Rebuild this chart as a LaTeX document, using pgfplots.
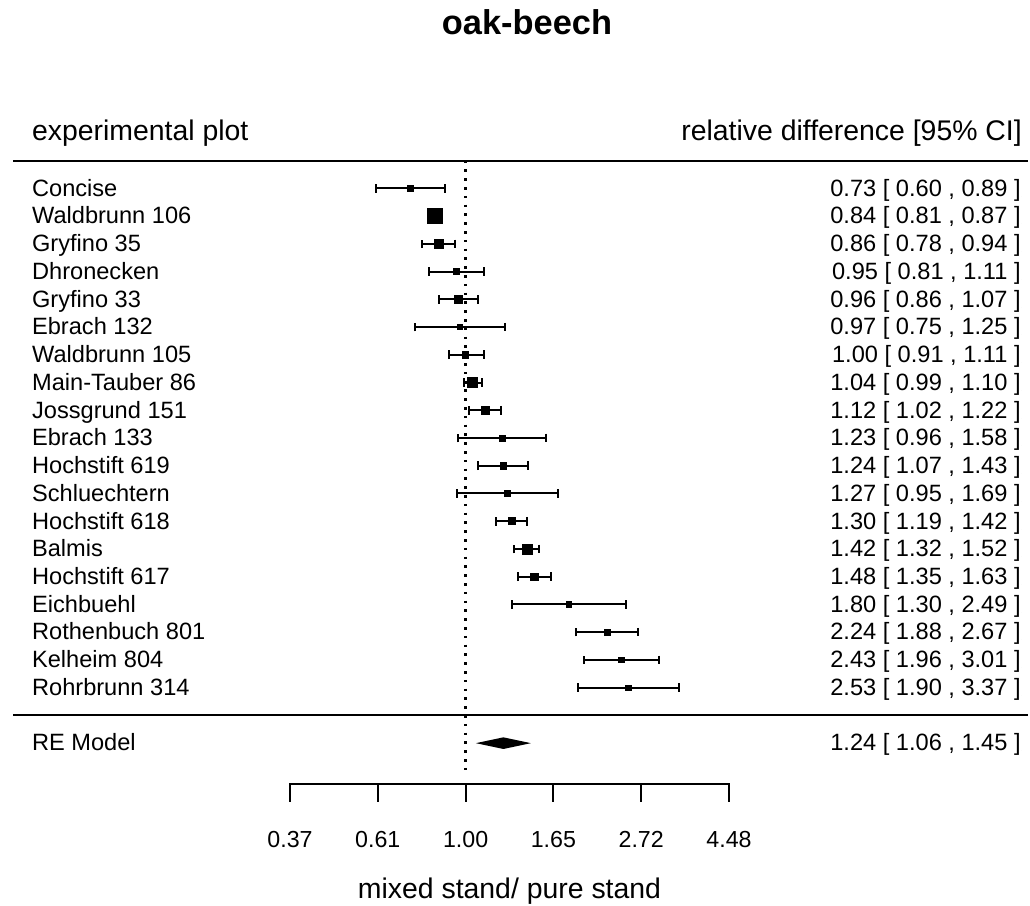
\documentclass[border=0pt]{standalone}
\usepackage{pgfplots}
\usepackage{pgfplotstable}
\pgfplotsset{compat=1.18}
\usepackage{fontspec}
\setmainfont{Liberation Sans}

\newcommand\rowfont{\fontsize{11.8}{14}\selectfont}
\newcommand\tickfont{\fontsize{11.6}{14}\selectfont}
\newcommand\headfont{\fontsize{14.2}{17}\selectfont}
\newcommand\titlefont{\fontsize{17.2}{20}\selectfont\bfseries}

\pgfplotsset{
  /pgf/number format/.cd, fixed, fixed zerofill, precision=2, assume math mode=true,
}
\newcommand\ci[3]{\pgfmathprintnumber{#1} [ \pgfmathprintnumber{#2} , \pgfmathprintnumber{#3} ]}

% one row per plot: position, name, ratio, 95% CI, half side of the weight box (pt)
\pgfplotstableread[col sep=comma]{
y,name,est,lo,hi,box
19,Concise,0.73,0.60,0.89,1.375
18,Waldbrunn 106,0.84,0.81,0.87,3.875
17,Gryfino 35,0.86,0.78,0.94,2.125
16,Dhronecken,0.95,0.81,1.11,1.375
15,Gryfino 33,0.96,0.86,1.07,2.0
14,Ebrach 132,0.97,0.75,1.25,1.25
13,Waldbrunn 105,1.00,0.91,1.11,1.625
12,Main-Tauber 86,1.04,0.99,1.10,2.625
11,Jossgrund 151,1.12,1.02,1.22,1.875
10,Ebrach 133,1.23,0.96,1.58,1.5
9,Hochstift 619,1.24,1.07,1.43,1.625
8,Schluechtern,1.27,0.95,1.69,1.375
7,Hochstift 618,1.30,1.19,1.42,1.75
6,Balmis,1.42,1.32,1.52,2.5
5,Hochstift 617,1.48,1.35,1.63,1.875
4,Eichbuehl,1.80,1.30,2.49,1.375
3,Rothenbuch 801,2.24,1.88,2.67,1.625
2,Kelheim 804,2.43,1.96,3.01,1.375
1,Rohrbrunn 314,2.53,1.90,3.37,1.375
}\studies

% pooled random-effects estimate
\pgfplotstableread[col sep=comma]{
y,name,est,lo,hi
-1,RE Model,1.24,1.06,1.45
}\remodel

\begin{document}
\begin{tikzpicture}
\begin{axis}[
  scale only axis, width=515pt, height=453pt,
  xmode=log, xmin=0.07054, xmax=24.88,
  ymin=-6.87, ymax=25.79,
  hide axis, clip=false,
]
\path (rel axis cs:0,0) rectangle (rel axis cs:1,1);

% title and column headers
\node[font=\titlefont, anchor=base, inner sep=0pt] at (axis cs:1.4186,24.53) {oak-beech};
\node[font=\headfont, anchor=base west, inner sep=0pt] at (axis cs:0.0845,20.74) {experimental plot};
\node[font=\headfont, anchor=base east, inner sep=0pt] at (axis cs:23.8,20.74) {relative difference [95\% CI]};

% separating rules
\draw[line width=1pt] (axis cs:0.0761,20) -- (axis cs:24.6,20);
\draw[line width=1pt] (axis cs:0.0761,0) -- (axis cs:24.6,0);

% line of no difference
\addplot[black, line width=1.3pt, dash pattern=on 1.3pt off 3.1pt] coordinates {(1,20) (1,-2.15)};

% estimates with confidence intervals
\addplot[black, only marks, mark=square*, scatter,
  scatter/use mapped color={draw=none, fill=black},
  visualization depends on={\thisrow{box} \as \boxsize},
  scatter/@pre marker code/.append style={/tikz/mark size=\boxsize},
  error bars/.cd, x dir=both, x explicit,
    error bar style={line width=1pt, black},
    error mark options={rotate=90, line width=1pt, mark size=2.15pt, black}]
  table[x=est, y=y,
    x error plus expr=\thisrow{hi}-\thisrow{est},
    x error minus expr=\thisrow{est}-\thisrow{lo}] {\studies};

% pooled estimate diamond
\addplot[fill=black, draw=none] coordinates {(1.06,-1) (1.24,-0.79) (1.45,-1) (1.24,-1.21)} -- cycle;

% row names
\addplot[only marks, mark=*, mark size=0pt, mark options={draw=none, fill=none},
  point meta=explicit symbolic, nodes near coords,
  nodes near coords align={anchor=base west},
  every node near coord/.append style={font=\rowfont, text=black, inner sep=0pt, anchor=base west}]
  table[x expr=0.0845, y expr=\thisrow{y}-0.28, meta=name] {\studies};
\addplot[only marks, mark=*, mark size=0pt, mark options={draw=none, fill=none},
  point meta=explicit symbolic, nodes near coords,
  nodes near coords align={anchor=base west},
  every node near coord/.append style={font=\rowfont, text=black, inner sep=0pt, anchor=base west}]
  table[x expr=0.0845, y expr=\thisrow{y}-0.25, meta=name] {\remodel};

% numeric summaries
\addplot[only marks, mark=*, mark size=0pt, mark options={draw=none, fill=none},
  visualization depends on={\thisrow{est} \as \vest},
  visualization depends on={\thisrow{lo} \as \vlo},
  visualization depends on={\thisrow{hi} \as \vhi},
  nodes near coords={\ci{\vest}{\vlo}{\vhi}},
  nodes near coords align={anchor=base east},
  every node near coord/.append style={font=\rowfont, text=black, inner sep=0pt, anchor=base east}]
  table[x expr=23.64, y expr=\thisrow{y}-0.28] {\studies};
\addplot[only marks, mark=*, mark size=0pt, mark options={draw=none, fill=none},
  visualization depends on={\thisrow{est} \as \vest},
  visualization depends on={\thisrow{lo} \as \vlo},
  visualization depends on={\thisrow{hi} \as \vhi},
  nodes near coords={\ci{\vest}{\vlo}{\vhi}},
  nodes near coords align={anchor=base east},
  every node near coord/.append style={font=\rowfont, text=black, inner sep=0pt, anchor=base east}]
  table[x expr=23.64, y expr=\thisrow{y}-0.25] {\remodel};

% ratio scale: e^-1 ... e^1.5
\draw[line width=1pt] (axis cs:0.3679,-3.12) -- (axis cs:0.3679,-2.47) -- (axis cs:4.4817,-2.47) -- (axis cs:4.4817,-3.12);
\draw[line width=1pt] (axis cs:0.6065,-2.47) -- (axis cs:0.6065,-3.12);
\draw[line width=1pt] (axis cs:1,-2.47) -- (axis cs:1,-3.12);
\draw[line width=1pt] (axis cs:1.6487,-2.47) -- (axis cs:1.6487,-3.12);
\draw[line width=1pt] (axis cs:2.7183,-2.47) -- (axis cs:2.7183,-3.12);
\node[font=\tickfont, anchor=base, inner sep=0pt] at (axis cs:0.3679,-4.75) {0.37};
\node[font=\tickfont, anchor=base, inner sep=0pt] at (axis cs:0.6065,-4.75) {0.61};
\node[font=\tickfont, anchor=base, inner sep=0pt] at (axis cs:1,-4.75) {1.00};
\node[font=\tickfont, anchor=base, inner sep=0pt] at (axis cs:1.6487,-4.75) {1.65};
\node[font=\tickfont, anchor=base, inner sep=0pt] at (axis cs:2.7183,-4.75) {2.72};
\node[font=\tickfont, anchor=base, inner sep=0pt] at (axis cs:4.4817,-4.75) {4.48};
\node[font=\headfont, anchor=base, inner sep=0pt] at (axis cs:1.284,-6.59) {mixed stand/ pure stand};
\end{axis}
\end{tikzpicture}
\end{document}
